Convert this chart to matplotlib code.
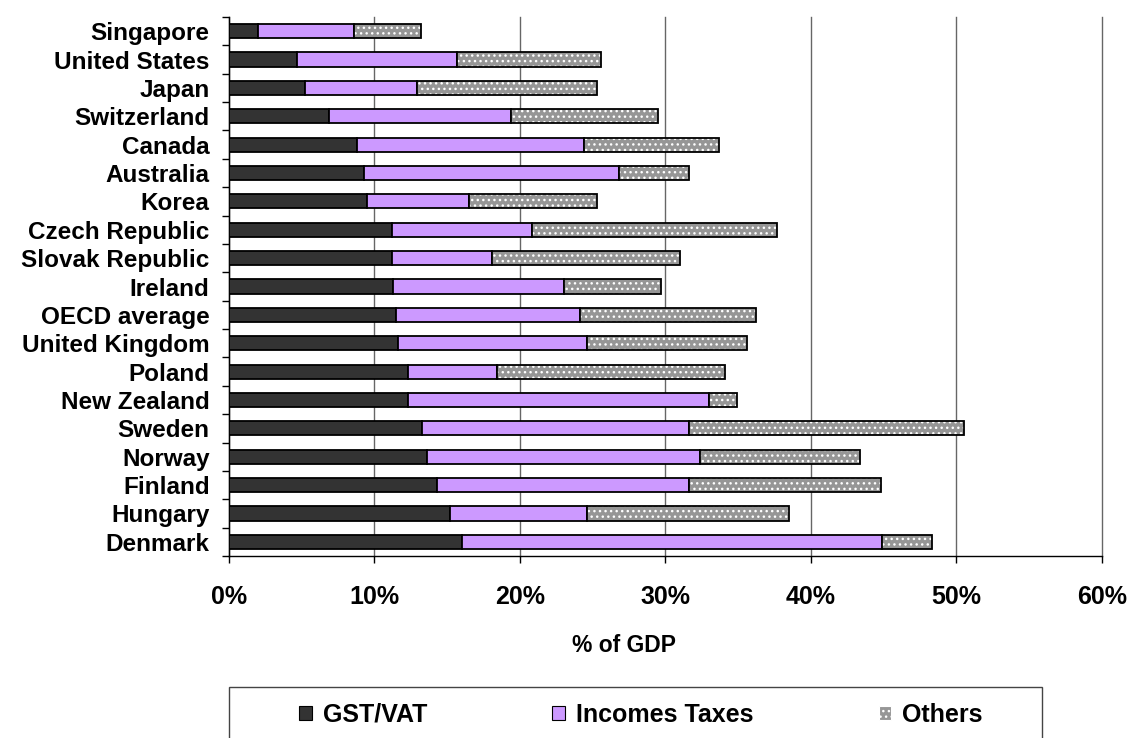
import matplotlib
matplotlib.use("Agg")
import matplotlib.pyplot as plt
import numpy as np
from matplotlib.patches import Patch, Rectangle
from matplotlib.ticker import FixedLocator, FuncFormatter

countries = ["Singapore", "United States", "Japan", "Switzerland", "Canada",
             "Australia", "Korea", "Czech Republic", "Slovak Republic", "Ireland",
             "OECD average", "United Kingdom", "Poland", "New Zealand", "Sweden",
             "Norway", "Finland", "Hungary", "Denmark"]
gst_vat = [2.0, 4.7, 5.2, 6.9, 8.8, 9.3, 9.5, 11.2, 11.2, 11.3,
           11.5, 11.6, 12.3, 12.3, 13.3, 13.6, 14.3, 15.2, 16.0]
income_end = [8.6, 15.7, 12.9, 19.4, 24.4, 26.8, 16.5, 20.8, 18.1, 23.0,
              24.1, 24.6, 18.4, 33.0, 31.6, 32.4, 31.6, 24.6, 44.9]
total = [13.2, 25.6, 25.3, 29.5, 33.7, 31.6, 25.3, 37.7, 31.0, 29.7,
         36.2, 35.6, 34.1, 34.9, 50.5, 43.4, 44.8, 38.5, 48.3]
xticks = [0, 10, 20, 30, 40, 50, 60]
series_names = ["GST/VAT", "Incomes Taxes", "Others"]

income = [b - a for a, b in zip(gst_vat, income_end)]
others = [c - b for b, c in zip(income_end, total)]

C_GST = "#333333"
C_INC = "#cc99ff"
C_OTH = "#969696"

plt.rcParams['font.family'] = ['Liberation Sans', 'DejaVu Sans']
plt.rcParams['hatch.linewidth'] = 1.0

fig = plt.figure(figsize=(11.33, 7.38), dpi=100)
ax = fig.add_axes([229 / 1133, 1 - 556 / 738, (1101.7 - 229) / 1133, (556 - 17) / 738])

n = len(countries)
y = np.arange(n)
h = 0.5
ax.barh(y, gst_vat, height=h, color=C_GST, edgecolor="black", linewidth=1.3, zorder=3)
ax.barh(y, income, left=gst_vat, height=h, color=C_INC, edgecolor="black", linewidth=1.3, zorder=3)
ax.barh(y, others, left=income_end, height=h, color=C_OTH, edgecolor="white",
        hatch="...", linewidth=0, zorder=3)
ax.barh(y, others, left=income_end, height=h, fill=False, edgecolor="black",
        linewidth=1.3, zorder=4)

ax.set_xlim(0, 60)
ax.set_ylim(n - 0.5, -0.5)
ax.set_xticks(xticks)
ax.xaxis.set_major_formatter(FuncFormatter(lambda v, p: f"{int(v)}%"))
ax.set_yticks(y)
ax.set_yticklabels(countries)
ax.yaxis.set_minor_locator(FixedLocator(np.arange(-0.5, n, 1.0)))
ax.tick_params(axis='y', which='major', length=0, pad=14, labelsize=17.5)
ax.tick_params(axis='y', which='minor', length=5, width=1.0, direction='out')
ax.tick_params(axis='x', which='major', length=5, width=1.0, pad=16, labelsize=18)
for lab in ax.get_yticklabels() + ax.get_xticklabels():
    lab.set_fontweight('bold')

ax.grid(axis='x', color='#666666', linewidth=1.0, zorder=0)
for gl in ax.get_xgridlines():
    gl.set_clip_on(False)
ax.spines['top'].set_visible(False)
ax.spines['right'].set_visible(False)
ax.spines['left'].set_linewidth(1.0)
ax.spines['bottom'].set_linewidth(1.0)

ax.set_xlabel("% of GDP", fontsize=16.5, fontweight='bold')
ax.xaxis.set_label_coords((624 - 229) / 872.7, -(646 - 556) / 539, transform=ax.transAxes)
ax.xaxis.label.set_verticalalignment('center')

# legend box
rect = Rectangle((229 / 1133, -0.05), (1042 - 229) / 1133, 0.05 + (1 - 687 / 738),
                 transform=fig.transFigure, fill=False, edgecolor='#444444',
                 linewidth=1.0, clip_on=False)
fig.patches.append(rect)

handles = [Patch(facecolor=C_GST, edgecolor='black', linewidth=0.8),
           Patch(facecolor=C_INC, edgecolor='black', linewidth=0.8),
           Patch(facecolor=C_OTH, edgecolor='white', hatch='...', linewidth=0.8)]
leg = fig.legend(handles, series_names, loc='center', ncol=3,
                 bbox_to_anchor=(641 / 1133, 1 - 715 / 738), frameon=False,
                 prop={'weight': 'bold', 'size': 18}, handlelength=0.5,
                 handleheight=0.5, handletextpad=0.45, columnspacing=5.0)

fig.savefig("out.png", dpi=100)
